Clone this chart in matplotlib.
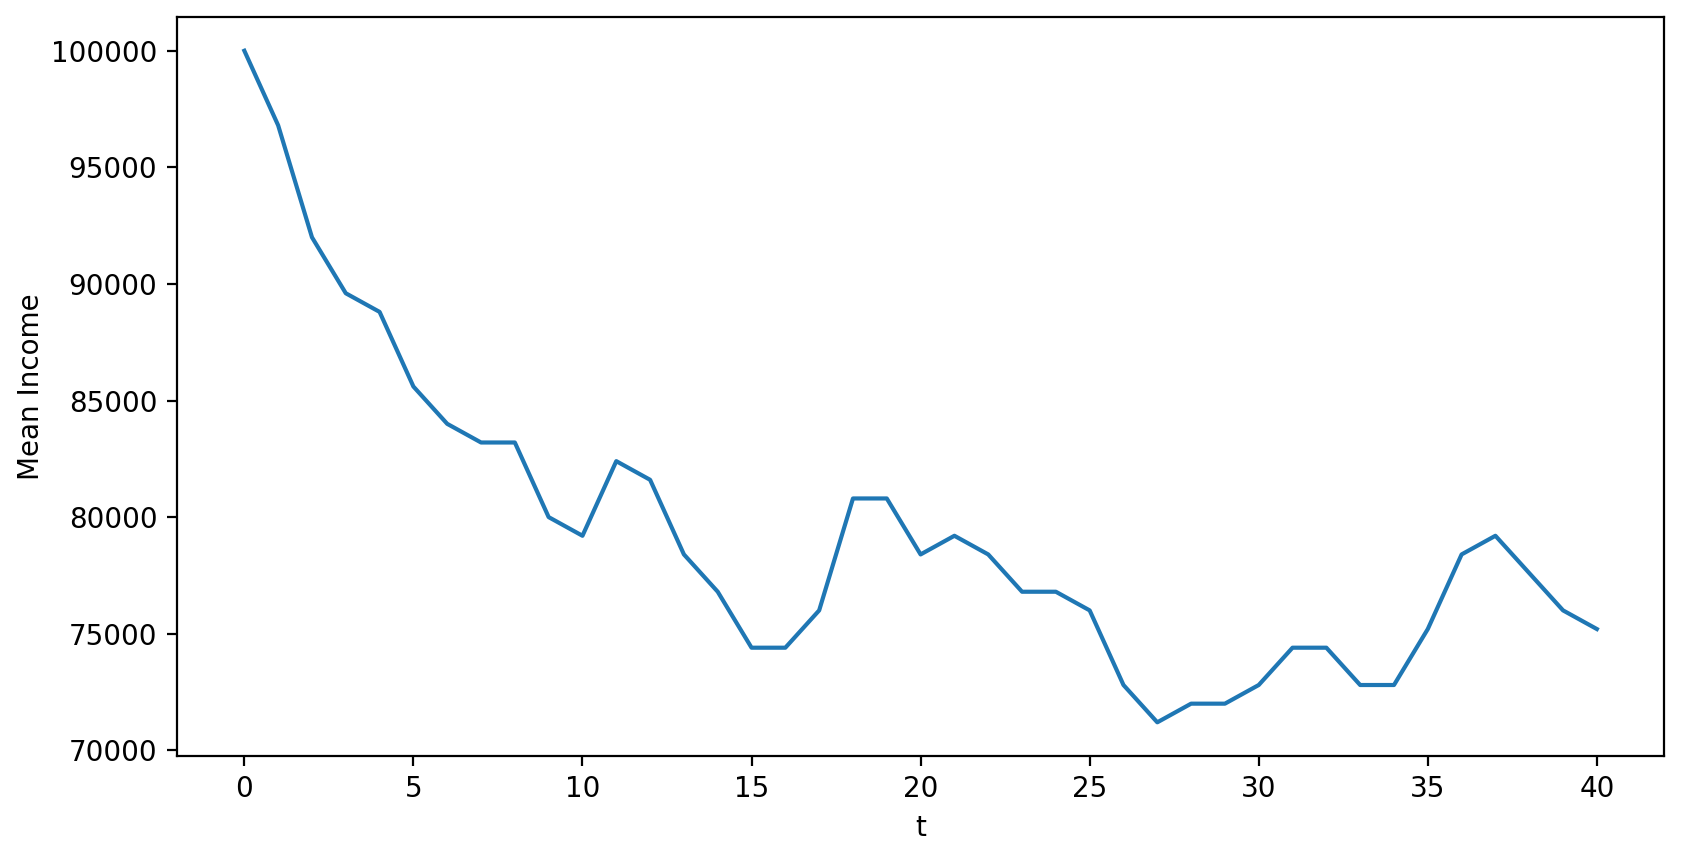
import matplotlib
matplotlib.use("Agg")
import matplotlib.pyplot as plt
import numpy as np

t = np.arange(41)
mean_income = [
    100000, 96800, 92000, 89600, 88800, 85600, 84000, 83200, 83200, 80000,
    79200, 82400, 81600, 78400, 76800, 74400, 74400, 76000, 80800, 80800,
    78400, 79200, 78400, 76800, 76800, 76000, 72800, 71200, 72000, 72000,
    72800, 74400, 74400, 72800, 72800, 75200, 78400, 79200, 77600, 76000,
    75200,
]

fig = plt.figure(figsize=(8.415, 4.29), dpi=200)
ax = fig.add_subplot(111)
fig.subplots_adjust(left=0.105, right=0.989, top=0.980, bottom=0.119)
ax.plot(t, mean_income, color="#1f77b4")
ax.set_xlabel("t")
ax.set_ylabel("Mean Income", labelpad=2)
ax.set_xticks(np.arange(0, 41, 5))
fig.savefig("out.png", dpi=200)
